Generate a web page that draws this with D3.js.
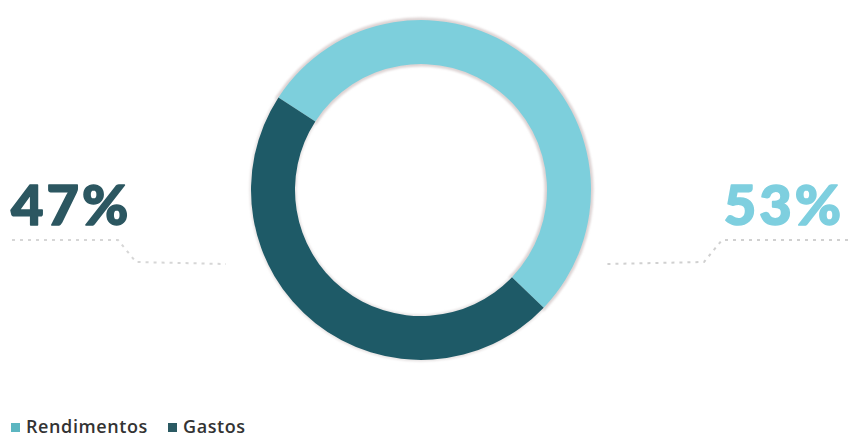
<!DOCTYPE html>
<html>
<head>
<meta charset="utf-8">
<script src="https://cdn.jsdelivr.net/npm/d3@7/dist/d3.min.js"></script>
<style>
  html, body { margin: 0; padding: 0; background: #fff; }
  svg { display: block; }
</style>
</head>
<body>
<svg id="chart" width="850" height="439"></svg>
<script>
// Share of income vs. expenses
const categories = ["Rendimentos", "Gastos"];
const values = [53, 47];
const labels = ["53%", "47%"];

const colors = { Rendimentos: "#7dcfdc", Gastos: "#1e5a67" };
const labelColors = { Rendimentos: "#7ecfdf", Gastos: "#2c5761" };
const legendColors = { Rendimentos: "#5cb6c1", Gastos: "#2b5a63" };

const svg = d3.select("#chart");
const cx = 421, cy = 190;
const outerR = 170, innerR = 126;

const data = categories.map((c, i) => ({ name: c, value: values[i], label: labels[i] }));

const pie = d3.pie()
  .value(d => d.value)
  .sort(null)
  .startAngle(-57 * Math.PI / 180)
  .endAngle(303 * Math.PI / 180);

const arc = d3.arc().innerRadius(innerR).outerRadius(outerR);

const defs = svg.append("defs");
const blur = defs.append("filter").attr("id", "soft").attr("x", "-10%").attr("y", "-10%").attr("width", "120%").attr("height", "120%");
blur.append("feGaussianBlur").attr("stdDeviation", 1.2);

const g = svg.append("g").attr("transform", `translate(${cx},${cy})`);

// faint halo around the ring
g.selectAll("path.halo")
  .data(pie(data))
  .join("path")
  .attr("class", "halo")
  .attr("d", arc)
  .attr("fill", "none")
  .attr("stroke", d => d.data.name === "Rendimentos" ? "#ddd3d3" : "#e6e2e2")
  .attr("stroke-width", d => d.data.name === "Rendimentos" ? 5 : 3)
  .attr("filter", "url(#soft)");

g.selectAll("path.slice")
  .data(pie(data))
  .join("path")
  .attr("class", "slice")
  .attr("d", arc)
  .attr("fill", d => colors[d.data.name]);

// percentage labels (stroked to get a heavier weight)
const labelFont = "Lato, 'Open Sans', sans-serif";
svg.append("text")
  .attr("x", 11).attr("y", 225)
  .attr("font-family", labelFont)
  .attr("font-weight", 900)
  .attr("font-size", 56)
  .attr("letter-spacing", 3)
  .attr("fill", labelColors.Gastos)
  .attr("stroke", labelColors.Gastos)
  .attr("stroke-width", 1.6)
  .attr("stroke-linejoin", "round")
  .text(data[1].label);

svg.append("text")
  .attr("x", 844).attr("y", 225)
  .attr("text-anchor", "end")
  .attr("font-family", labelFont)
  .attr("font-weight", 900)
  .attr("font-size", 56)
  .attr("letter-spacing", 3)
  .attr("fill", labelColors.Rendimentos)
  .attr("stroke", labelColors.Rendimentos)
  .attr("stroke-width", 1.6)
  .attr("stroke-linejoin", "round")
  .text(data[0].label);

// dotted leader lines
const leader = d3.line();
svg.append("path")
  .attr("d", leader([[12, 240], [118, 240], [136, 262], [226, 264]]))
  .attr("fill", "none")
  .attr("stroke", "#c4c4c4")
  .attr("stroke-width", 2)
  .attr("stroke-dasharray", "3,5")
  .attr("opacity", 0.7);

svg.append("path")
  .attr("d", leader([[848, 240], [722, 240], [704, 262], [606, 264]]))
  .attr("fill", "none")
  .attr("stroke", "#c4c4c4")
  .attr("stroke-width", 2)
  .attr("stroke-dasharray", "3,5")
  .attr("opacity", 0.8);

// legend
const legend = svg.append("g").attr("transform", "translate(11,423)");
const items = [{ name: "Rendimentos", x: 0 }, { name: "Gastos", x: 157 }];
items.forEach(it => {
  const li = legend.append("g").attr("transform", `translate(${it.x},0)`);
  li.append("rect").attr("x", 0).attr("y", 0).attr("width", 9).attr("height", 9)
    .attr("fill", legendColors[it.name]);
  li.append("text")
    .attr("x", 15).attr("y", 10)
    .attr("font-family", "'Open Sans', sans-serif")
    .attr("font-weight", 600)
    .attr("font-size", 18)
    .attr("letter-spacing", 0.6)
    .attr("fill", "#333333")
    .text(it.name);
});
</script>
</body>
</html>
